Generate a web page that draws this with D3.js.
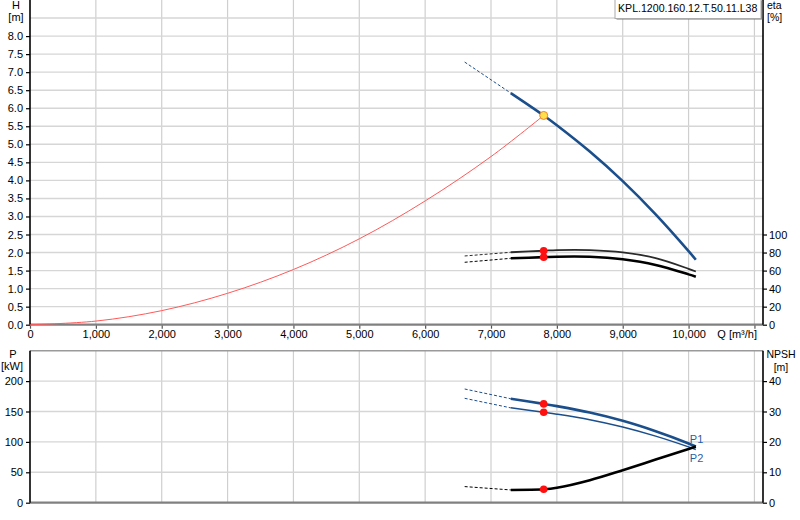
<!DOCTYPE html>
<html>
<head>
<meta charset="utf-8">
<script src="https://cdn.jsdelivr.net/npm/d3@7"></script>
<style>
  body { margin: 0; background: #fff; }
  svg { display: block; font-family: "Liberation Sans", Arial, sans-serif; font-size: 11px; }
  .axis text { fill: #000; font-size: 11px; font-family: "Liberation Sans", Arial, sans-serif; }
  .axis path { display: none; }
</style>
</head>
<body>
<div id="chart"></div>
<script>
// tick labels
var qTicks = [0, 1000, 2000, 3000, 4000, 5000, 6000, 7000, 8000, 9000, 10000];
var hTicks = [0, 0.5, 1, 1.5, 2, 2.5, 3, 3.5, 4, 4.5, 5, 5.5, 6, 6.5, 7, 7.5, 8];
var etaTicks = [0, 20, 40, 60, 80, 100];
var pTicks = [0, 50, 100, 150, 200];
var npshTicks = [0, 10, 20, 30, 40];

// pump curves, first segment (index 0-1) is the dashed extension, index 2 = duty point
var qPts = [6600, 7300, 7800, 8000, 8500, 9000, 9500, 10000, 10110];
var headH = [7.28, 6.42, 5.8, 5.53, 4.8, 3.98, 3.06, 2.04, 1.8];
var etaUpper = [76.2, 80.3, 82, 82.7, 82.7, 80.2, 73.8, 62, 59];
var etaLower = [69.2, 73.6, 74.9, 75.4, 75.3, 72.5, 66.3, 55.8, 53.2];
var powerP1 = [187, 171, 162.5, 158.8, 148.2, 134.6, 117.5, 97.5, 92.5];
var powerP2 = [171.7, 156, 148.7, 145.6, 136.5, 124.5, 109.5, 91.8, 87.5];
var npsh = [5.3, 4.2, 4.4, 4.9, 7.4, 10.7, 14.2, 17.7, 18.5];
var dutyIndex = 2;

// system curve
var sysQ = [0, 1000, 2000, 3000, 4000, 5000, 6000, 7000, 7800];
var sysH = [0, 0.1, 0.39, 0.87, 1.53, 2.38, 3.43, 4.66, 5.8];

var w = 800, h = 520;
var left = 30, right = 763;
var topY0 = 324.7, topY1 = 0;
var botY0 = 502.7, botY1 = 350.7;
var blue = "#1b4f8c";

var svg = d3.select("#chart").append("svg")
	.attr("width", w)
	.attr("height", h);

// scales
var x = d3.scaleLinear().domain([0, 11130]).range([left, right]);
var yH = d3.scaleLinear().domain([0, 9]).range([topY0, topY1]);
var yEta = d3.scaleLinear().domain([0, 360]).range([topY0, topY1]);
var yP = d3.scaleLinear().domain([0, 250]).range([botY0, botY1]);
var yN = d3.scaleLinear().domain([0, 50]).range([botY0, botY1]);

var gridX = d3.range(1000, 11001, 1000);

//网格 top
var gTop = svg.append("g");
gTop.selectAll(".vx").data(gridX).enter().append("line")
	.attr("x1", function(d) { return x(d); }).attr("x2", function(d) { return x(d); })
	.attr("y1", topY1).attr("y2", topY0)
	.style("stroke", "#cfcfcf").style("stroke-width", 1.2);
gTop.selectAll(".hy").data(yH.ticks(18).filter(function(d) { return d > 0 && d < 9; })).enter().append("line")
	.attr("x1", left).attr("x2", right)
	.attr("y1", function(d) { return yH(d); }).attr("y2", function(d) { return yH(d); })
	.style("stroke", "#d6d6d6").style("stroke-width", 1.4);

//网格 bottom
var gBot = svg.append("g");
gBot.selectAll(".vx").data(gridX).enter().append("line")
	.attr("x1", function(d) { return x(d); }).attr("x2", function(d) { return x(d); })
	.attr("y1", botY1).attr("y2", botY0)
	.style("stroke", "#cfcfcf").style("stroke-width", 1.2);
gBot.selectAll(".hy").data(pTicks.filter(function(d) { return d > 0; })).enter().append("line")
	.attr("x1", left).attr("x2", right)
	.attr("y1", function(d) { return yP(d); }).attr("y2", function(d) { return yP(d); })
	.style("stroke", "#d6d6d6").style("stroke-width", 1.4);
gBot.append("line").attr("x1", left).attr("x2", right).attr("y1", botY1).attr("y2", botY1)
	.style("stroke", "#9a9a9a").style("stroke-width", 1.5);

// axes
function styleAxis(g, tickColor) {
	g.selectAll(".tick line").style("stroke", tickColor).style("stroke-width", 1.2);
}

var xAxis = svg.append("g").attr("class", "axis")
	.attr("transform", "translate(0," + topY0 + ")")
	.call(d3.axisBottom(x).tickValues(qTicks.concat([11000])).tickSize(4).tickPadding(2)
		.tickFormat(function(d) { return d === 11000 ? "" : d3.format(",")(d); }));
styleAxis(xAxis, "#555");

var hAxis = svg.append("g").attr("class", "axis")
	.attr("transform", "translate(" + left + ",0)")
	.call(d3.axisLeft(yH).tickValues(hTicks).tickSize(4).tickPadding(3).tickFormat(d3.format(".1f")));
styleAxis(hAxis, "#000");

var etaAxis = svg.append("g").attr("class", "axis")
	.attr("transform", "translate(" + right + ",0)")
	.call(d3.axisRight(yEta).tickValues(etaTicks).tickSize(4).tickPadding(2));
styleAxis(etaAxis, "#000");

var pAxis = svg.append("g").attr("class", "axis")
	.attr("transform", "translate(" + left + ",0)")
	.call(d3.axisLeft(yP).tickValues(pTicks).tickSize(4).tickPadding(3));
styleAxis(pAxis, "#000");

var nAxis = svg.append("g").attr("class", "axis")
	.attr("transform", "translate(" + right + ",0)")
	.call(d3.axisRight(yN).tickValues(npshTicks).tickSize(4).tickPadding(2));
styleAxis(nAxis, "#000");

// frame lines
svg.append("line").attr("x1", left).attr("x2", right).attr("y1", topY0).attr("y2", topY0)
	.style("stroke", "#808080").style("stroke-width", 2.2);
svg.append("line").attr("x1", left).attr("x2", right).attr("y1", botY0).attr("y2", botY0)
	.style("stroke", "#808080").style("stroke-width", 2.2);
[[topY1, topY0], [botY1, botY0]].forEach(function(r) {
	[left, right].forEach(function(xx) {
		svg.append("line").attr("x1", xx).attr("x2", xx).attr("y1", r[0]).attr("y2", r[1])
			.style("stroke", "#000").style("stroke-width", 1.6);
	});
});

// axis titles
function label(txt, xx, yy, anchor, color, size) {
	svg.append("text").attr("x", xx).attr("y", yy).attr("text-anchor", anchor || "start")
		.style("fill", color || "#000").style("font-size", (size || 11) + "px").text(txt);
}
label("H", 16, 9, "middle");
label("[m]", 16, 21, "middle");
label("eta", 767, 8.5, "start", "#000", 10.5);
label("[%]", 767, 21, "start", "#000", 10.5);
label("Q [m\u00b3/h]", 757, 338, "end");
label("P", 13, 358, "middle");
label("[kW]", 12, 370, "middle");
label("NPSH", 781, 358, "middle", "#000", 10.5);
label("[m]", 781, 370.5, "middle", "#000", 10.5);

//系统曲线
var sysLine = d3.line()
	.x(function(d, i) { return x(sysQ[i]); })
	.y(function(d) { return yH(d); })
	.curve(d3.curveCatmullRom.alpha(0.5));
svg.append("path").attr("d", sysLine(sysH))
	.style("fill", "none").style("stroke", "#ff5a5a").style("stroke-width", 1);

// pump curve helper
function drawCurve(values, scale, color, width) {
	var line = d3.line()
		.x(function(d) { return x(d[0]); })
		.y(function(d) { return scale(d[1]); })
		.curve(d3.curveCatmullRom.alpha(0.5));
	var pts = qPts.map(function(q, i) { return [q, values[i]]; });
	svg.append("path").attr("d", line(pts.slice(0, 2)))
		.style("fill", "none").style("stroke", color).style("stroke-width", 1)
		.style("stroke-dasharray", "3,2");
	svg.append("path").attr("d", line(pts.slice(1)))
		.style("fill", "none").style("stroke", color).style("stroke-width", width);
}

drawCurve(headH, yH, blue, 2.6);
drawCurve(etaUpper, yEta, "#2a2a2a", 1.8);
drawCurve(etaLower, yEta, "#000", 2.6);
drawCurve(powerP1, yP, blue, 2.6);
drawCurve(powerP2, yP, blue, 1.5);
drawCurve(npsh, yN, "#000", 2.6);

// duty point markers
var qd = qPts[dutyIndex];
[[etaUpper, yEta], [etaLower, yEta], [powerP1, yP], [powerP2, yP], [npsh, yN]].forEach(function(s) {
	svg.append("circle").attr("cx", x(qd)).attr("cy", s[1](s[0][dutyIndex])).attr("r", 3.8)
		.style("fill", "#ff1010");
});
svg.append("circle").attr("cx", x(qd)).attr("cy", yH(headH[dutyIndex])).attr("r", 4)
	.style("fill", "#ffe14a").style("stroke", "#f08030").style("stroke-width", 1);

// P1 / P2 labels
var qEnd = qPts[qPts.length - 1];
label("P1", x(qEnd) - 6, yP(powerP1[powerP1.length - 1]) - 3, "start", "#1f5fa8");
label("P2", x(qEnd) - 6, yP(powerP2[powerP2.length - 1]) + 12, "start", "#1f5fa8");

//图例
var lg = svg.append("g");
lg.append("rect").attr("x", 616.5).attr("y", 0.5).attr("width", 146).attr("height", 19)
	.style("fill", "#777");
lg.append("rect").attr("x", 615).attr("y", -1).attr("width", 146).attr("height", 19.5)
	.style("fill", "#fff").style("stroke", "#aaa").style("stroke-width", 1);
lg.append("text").attr("x", 618).attr("y", 12).style("fill", "#000").style("font-size", "10.6px")
	.text("KPL.1200.160.12.T.50.11.L38");
</script>
</body>
</html>
